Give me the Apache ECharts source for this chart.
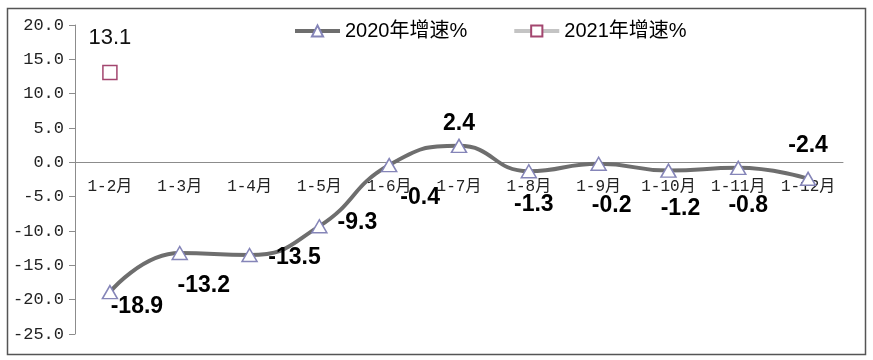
<!DOCTYPE html>
<html><head><meta charset="utf-8">
<script src="https://cdn.jsdelivr.net/npm/echarts@6/dist/echarts.min.js"></script>
<style>html,body{margin:0;padding:0;background:#fff}#c{width:873px;height:360px}</style>
</head><body><div id="c"></div>
<script>
var categories = ['1-2月','1-3月','1-4月','1-5月','1-6月','1-7月','1-8月','1-9月','1-10月','1-11月','1-12月'];
var series2020 = [-18.9,-13.2,-13.5,-9.3,-0.4,2.4,-1.3,-0.2,-1.2,-0.8,-2.4];
var series2021 = [13.1,null,null,null,null,null,null,null,null,null,null];
var seriesNames = ['2020年增速%','2021年增速%'];
var yTicks = {min:-25, max:20, interval:5};
// label offsets (style only)
var labelOffsets2020 = [[27,15],[24,33],[45,3],[38,-4],[31,33],[0,-22],[5,33],[13,42],[12,38],[10,38],[0,-33]];

var W = 873, H = 360, gTop = 25, gBottom = 26;
var plotH = H - gTop - gBottom;
var zeroFromBottom = plotH * (0 - yTicks.min) / (yTicks.max - yTicks.min);

var chart = echarts.init(document.getElementById('c'));
var d2020 = series2020.map(function(v,i){
  return {value:v, label:{offset:labelOffsets2020[i]}};
});
chart.setOption({
  animation:false,
  grid:{left:75,right:30,top:gTop,bottom:gBottom},
  legend:{
    left:288, top:16, itemWidth:45, itemHeight:14, itemGap:45,
    lineStyle:{width:4},
    textStyle:{fontFamily:'Liberation Sans, Noto Sans CJK SC', fontSize:20, color:'#000'},
    data:seriesNames
  },
  xAxis:{
    type:'category', data:categories, boundaryGap:true,
    position:'bottom', offset:-zeroFromBottom,
    axisLine:{onZero:false, lineStyle:{color:'#8c8c8c', width:1}},
    axisTick:{show:false},
    axisLabel:{margin:16, color:'#222', fontSize:16, fontFamily:'Liberation Mono, Noto Sans CJK SC', interval:0}
  },
  yAxis:{
    type:'value', min:yTicks.min, max:yTicks.max, interval:yTicks.interval,
    splitLine:{show:false},
    axisLine:{show:true, lineStyle:{color:'#8c8c8c', width:1}},
    axisTick:{show:true, length:6, lineStyle:{color:'#8c8c8c'}},
    axisLabel:{margin:11, color:'#222', fontSize:17, fontFamily:'Liberation Mono', formatter:function(v){return v.toFixed(1);}}
  },
  series:[
    {
      name:seriesNames[0], type:'line', smooth:true, data:d2020,
      symbol:'triangle', symbolSize:[15,13],
      lineStyle:{color:'#6e6e6e', width:4},
      itemStyle:{color:'#fff', borderColor:'#8585b8', borderWidth:1.5},
      label:{show:true, position:'inside', color:'#000', fontWeight:'bold', fontSize:23, fontFamily:'Liberation Sans',
        formatter:function(p){return p.value.toFixed(1);}},
      z:3
    },
    {
      name:seriesNames[1], type:'line', data:series2021,
      symbol:'rect', symbolSize:14,
      lineStyle:{color:'#c4c4c4', width:4},
      itemStyle:{color:'#fff', borderColor:'#a3466f', borderWidth:1.5},
      label:{show:true, position:'inside', offset:[0,-34], color:'#111', fontSize:22, fontFamily:'Liberation Sans',
        formatter:function(p){return p.value==null?'':p.value.toFixed(1);}},
      z:4
    }
  ],
  graphic:[{type:'rect', left:5, top:6, shape:{width:858, height:346}, style:{fill:null, stroke:'#555', lineWidth:1.5}, silent:true}]
});
</script></body></html>
